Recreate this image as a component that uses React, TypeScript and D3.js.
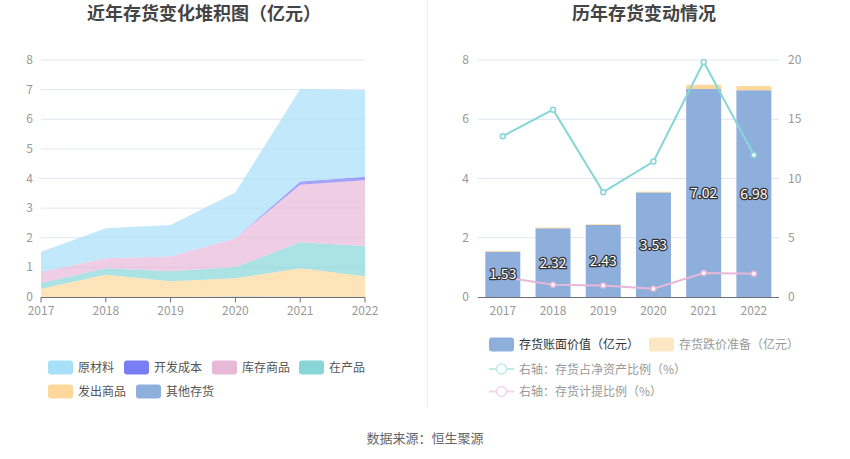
import React from "react";
import * as d3 from "d3";

const years = ["2017", "2018", "2019", "2020", "2021", "2022"];

// Left chart: stacked inventory components (亿元)
const qitaCunhuo = [0, 0, 0, 0.02, 0.01, 0];
const fachuShangpin = [0.28, 0.75, 0.53, 0.61, 0.96, 0.7];
const zaiChanpin = [0.19, 0.22, 0.34, 0.38, 0.88, 1.02];
const kucunShangpin = [0.37, 0.34, 0.5, 0.97, 1.94, 2.22];
const kaifaChengben = [0, 0, 0, 0, 0.11, 0.12];
const yuancailiao = [0.69, 1.01, 1.06, 1.55, 3.12, 2.92];

// Right chart
const bookValue = [1.53, 2.32, 2.43, 3.53, 7.02, 6.98];
const impairment = [0.026, 0.024, 0.024, 0.025, 0.145, 0.14];
const ratioNetAssets = [13.57, 15.81, 8.85, 11.43, 19.83, 11.99];
const ratioProvision = [1.69, 1.04, 0.98, 0.7, 2.02, 1.97];

const leftTicks = [0, 1, 2, 3, 4, 5, 6, 7, 8];
const rightLeftTicks = [0, 2, 4, 6, 8];
const rightRightTicks = [0, 5, 10, 15, 20];

const FONT = "'Noto Sans CJK SC', 'Noto Sans', sans-serif";

const leftSeries = [
  { key: "其他存货", values: qitaCunhuo, color: "#8eaedc" },
  { key: "发出商品", values: fachuShangpin, color: "#fdd89a" },
  { key: "在产品", values: zaiChanpin, color: "#88d6d8" },
  { key: "库存商品", values: kucunShangpin, color: "#e8b8d9" },
  { key: "开发成本", values: kaifaChengben, color: "#7a7ef5" },
  { key: "原材料", values: yuancailiao, color: "#a8e0f9" },
];

const leftLegend = [
  [
    { name: "原材料", color: "#a8e0f9" },
    { name: "开发成本", color: "#7a7ef5" },
    { name: "库存商品", color: "#e8b8d9" },
    { name: "在产品", color: "#88d6d8" },
  ],
  [
    { name: "发出商品", color: "#fdd89a" },
    { name: "其他存货", color: "#8eaedc" },
  ],
];

export default function App() {
  // Left chart scales
  const lx = d3.scalePoint<string>().domain(years).range([41, 365]);
  const ly = d3.scaleLinear().domain([0, 8]).range([297, 60]);

  const table = years.map((y, i) => {
    const row: any = { year: y };
    leftSeries.forEach((s) => (row[s.key] = s.values[i]));
    return row;
  });
  const stacked = d3.stack<any>().keys(leftSeries.map((s) => s.key))(table);
  const area = d3
    .area<any>()
    .x((d: any) => lx(d.data.year) as number)
    .y0((d: any) => ly(d[0]))
    .y1((d: any) => ly(d[1]));

  // Right chart scales
  const rx = d3.scaleBand<string>().domain(years).range([477.7, 779]).paddingInner(0.3).paddingOuter(0.15);
  const rxOuter = d3.scaleBand<string>().domain(years).range([477.7, 779]);
  const ryL = d3.scaleLinear().domain([0, 8]).range([297, 60]);
  const ryR = d3.scaleLinear().domain([0, 20]).range([297, 60]);
  const cx = (y: string) => (rxOuter(y) as number) + rxOuter.bandwidth() / 2;
  const line1 = d3
    .line<number>()
    .x((_, i) => cx(years[i]))
    .y((d) => ryR(d));

  const barW = 35;

  // legend positions
  const leftLegendX = [
    [48, 124, 212, 299],
    [48, 136],
  ];

  return (
    <svg width={850} height={459} style={{ position: "absolute", left: 0, top: 0, fontFamily: FONT }}>
      <rect x={0} y={0} width={850} height={459} fill="#fff" />
      {/* Titles */}
      <text x={204} y={20} textAnchor="middle" fontSize={18} fontWeight="bold" fill="#444">
        近年存货变化堆积图（亿元）
      </text>
      <text x={644} y={20} textAnchor="middle" fontSize={18} fontWeight="bold" fill="#444">
        历年存货变动情况
      </text>
      {/* Divider */}
      <line x1={427.5} x2={427.5} y1={0} y2={408} stroke="#eeeeee" strokeWidth={1} />

      {/* LEFT CHART */}
      {leftTicks.map((t) => (
        <g key={"lt" + t}>
          {t > 0 && <line x1={41} x2={365} y1={ly(t)} y2={ly(t)} stroke="#e0e6f1" />}
          <text x={33} y={ly(t) + 4} textAnchor="end" fontSize={12} fill="#999">
            {t}
          </text>
        </g>
      ))}
      {stacked.map((layer, i) => (
        <path key={layer.key} d={area(layer as any) || ""} fill={leftSeries[i].color} fillOpacity={0.7} />
      ))}
      <line x1={41} x2={365} y1={297.5} y2={297.5} stroke="#6e7079" />
      {years.map((y) => (
        <g key={"lx" + y}>
          <line x1={lx(y)} x2={lx(y)} y1={297.5} y2={302.5} stroke="#6e7079" />
          <text x={lx(y)} y={315} textAnchor="middle" fontSize={12} fill="#999">
            {y}
          </text>
        </g>
      ))}
      {leftLegend.map((row, ri) =>
        row.map((it, ii) => {
          const x = leftLegendX[ri][ii];
          const yc = ri === 0 ? 367.5 : 391.5;
          return (
            <g key={it.name}>
              <rect x={x} y={yc - 7} width={25} height={14} rx={3} fill={it.color} />
              <text x={x + 30} y={yc + 4.5} fontSize={12} fill="#555">
                {it.name}
              </text>
            </g>
          );
        })
      )}

      {/* RIGHT CHART */}
      {rightLeftTicks.map((t, i) => (
        <g key={"rt" + t}>
          {t > 0 && <line x1={477.7} x2={779} y1={ryL(t)} y2={ryL(t)} stroke="#e0e6f1" />}
          <text x={469} y={ryL(t) + 4} textAnchor="end" fontSize={12} fill="#999">
            {t}
          </text>
          <text x={788} y={ryR(rightRightTicks[i]) + 4} textAnchor="start" fontSize={12} fill="#999">
            {rightRightTicks[i]}
          </text>
        </g>
      ))}
      {years.map((y, i) => {
        const x = cx(y) - barW / 2;
        return (
          <g key={"bar" + y}>
            <rect x={x} y={ryL(bookValue[i])} width={barW} height={ryL(0) - ryL(bookValue[i])} fill="#8eaedc" />
            <rect
              x={x}
              y={ryL(bookValue[i] + impairment[i])}
              width={barW}
              height={ryL(bookValue[i]) - ryL(bookValue[i] + impairment[i])}
              fill="#fdd89a"
            />
          </g>
        );
      })}
      <line x1={477.7} x2={779} y1={297.5} y2={297.5} stroke="#6e7079" />
      {years.map((y) => (
        <g key={"rx" + y}>
          <text x={cx(y)} y={315} textAnchor="middle" fontSize={12} fill="#999">
            {y}
          </text>
        </g>
      ))}
      <path d={line1(ratioNetAssets) || ""} fill="none" stroke="#88d6d8" strokeWidth={2} />
      <path d={line1(ratioProvision) || ""} fill="none" stroke="#e8b8d9" strokeWidth={2} />
      {ratioNetAssets.map((v, i) => (
        <circle key={"c1" + i} cx={cx(years[i])} cy={ryR(v)} r={2.5} fill="#fff" stroke="#88d6d8" strokeWidth={1.5} />
      ))}
      {ratioProvision.map((v, i) => (
        <circle key={"c2" + i} cx={cx(years[i])} cy={ryR(v)} r={2.5} fill="#fff" stroke="#e8b8d9" strokeWidth={1.5} />
      ))}
      {bookValue.map((v, i) => (
        <text
          key={"lab" + i}
          x={cx(years[i])}
          y={ryL(v / 2) + 5}
          textAnchor="middle"
          fontSize={14}
          fill="#fff"
          stroke="#333"
          strokeWidth={2.5}
          strokeLinejoin="round"
          style={{ paintOrder: "stroke" }}
        >
          {v.toFixed(2)}
        </text>
      ))}
      {/* Right legend */}
      <rect x={489} y={337.5} width={25} height={14} rx={3} fill="#8eaedc" />
      <text x={519} y={348.5} fontSize={12} fill="#333">
        存货账面价值（亿元）
      </text>
      <rect x={649} y={337.5} width={25} height={14} rx={3} fill="#fde6c4" />
      <text x={679} y={348.5} fontSize={12} fill="#999">
        存货跌价准备（亿元）
      </text>
      <line x1={489} x2={514} y1={369} y2={369} stroke="#bfeaeb" strokeWidth={2} />
      <circle cx={501.5} cy={369} r={5} fill="#fff" stroke="#bfeaeb" strokeWidth={1.5} />
      <text x={519} y={373.5} fontSize={12} fill="#999">
        右轴：存货占净资产比例（%）
      </text>
      <line x1={489} x2={514} y1={391.5} y2={391.5} stroke="#f3d5ea" strokeWidth={2} />
      <circle cx={501.5} cy={391.5} r={5} fill="#fff" stroke="#f3d5ea" strokeWidth={1.5} />
      <text x={519} y={396} fontSize={12} fill="#999">
        右轴：存货计提比例（%）
      </text>

      {/* Footer */}
      <text x={425} y={443} textAnchor="middle" fontSize={13} fill="#666">
        数据来源：恒生聚源
      </text>
    </svg>
  );
}
